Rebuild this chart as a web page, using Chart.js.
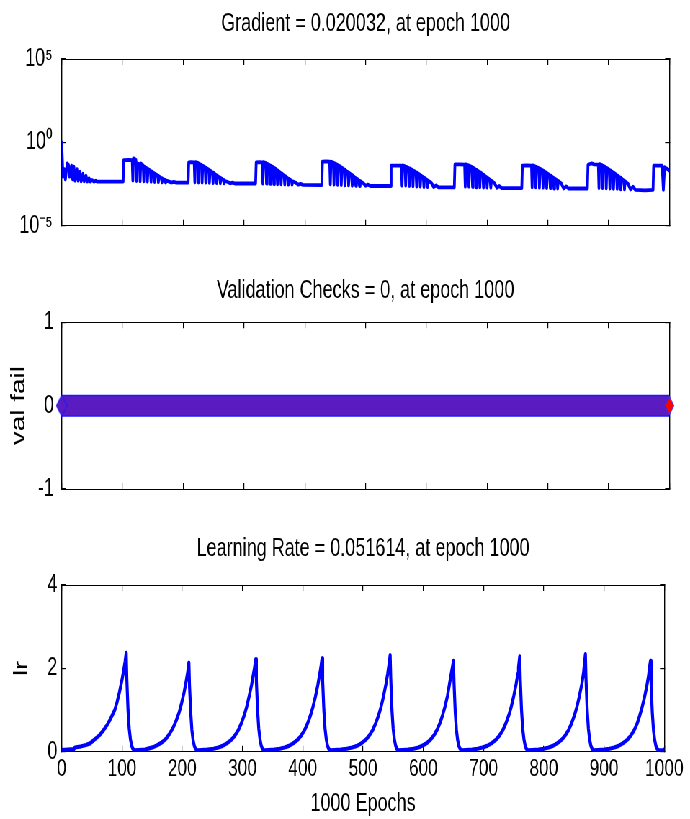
<!DOCTYPE html>
<html>
<head>
<meta charset="utf-8">
<script src="https://cdn.jsdelivr.net/npm/chart.js@4.4.1/dist/chart.umd.min.js"></script>
<style>
  html, body { margin: 0; padding: 0; background: #fff; overflow: hidden; }
  /* the figure is drawn wide and squeezed horizontally, like the narrow MATLAB export */
  #squeeze { width: 958px; height: 819px; transform: scaleX(0.7203); transform-origin: 0 0; }
  .panel { position: relative; width: 958px; }
  #p1, #p2 { height: 262px; }
  #p3 { height: 295px; }
</style>
</head>
<body>
<div id="squeeze">
  <div class="panel" id="p1"><canvas id="gradChart"></canvas></div>
  <div class="panel" id="p2"><canvas id="valChart"></canvas></div>
  <div class="panel" id="p3"><canvas id="lrChart"></canvas></div>
</div>
<script>
// ---- data ----
const epochTicks = [0, 100, 200, 300, 400, 500, 600, 700, 800, 900, 1000];

const gradTicks = [1e-5, 1, 1e5];
const gradTickLabels = ['10\u207B\u2075', '10\u2070', '10\u2075'];

// [epoch, gradient]
const gradientSeries = [
  [0,1.0],[2,8.7e-3],[4,2.5e-2],[6,6.0e-3],[9,5.5e-2],[11,4.5e-2],[13,8.7e-3],[16,4.0e-2],[18,6.0e-3],
  [20,3.5e-2],[22,5.0e-3],[25,2.5e-2],[27,5.0e-3],[30,1.7e-2],[32,4.6e-3],[35,1.3e-2],[37,4.6e-3],
  [40,1.0e-2],[42,4.5e-3],[45,7.0e-3],[47,4.4e-3],[50,5.5e-3],[53,4.4e-3],[56,5.0e-3],[58,4.4e-3],[101,4.4e-3],
  // cycle 1
  [102,8.7e-2],[110,9.0e-2],[116,8.7e-2],
  [117,5.0e-3],[118,1.1e-1],[122,9.0e-2],
  [123,4.8e-3],[124,5.5e-2],[128,5.0e-2],
  [129,4.6e-3],[130,5.5e-2],[134,4.2e-2],
  [135,4.5e-3],[136,3.5e-2],[140,2.8e-2],
  [141,4.4e-3],[142,2.5e-2],[146,2.0e-2],
  [147,4.3e-3],[148,1.8e-2],[152,1.4e-2],
  [153,4.2e-3],[154,1.3e-2],[158,1.0e-2],
  [159,4.1e-3],[160,9.0e-3],[164,7.0e-3],
  [165,4.0e-3],[166,6.5e-3],[170,5.5e-3],
  [171,3.9e-3],[172,5.0e-3],[177,4.4e-3],[180,3.9e-3],[184,4.2e-3],[189,3.8e-3],[208,3.8e-3],
  // cycle 2
  [209,6.3e-2],[213,6.5e-2],[218,6.3e-2],
  [219,4.0e-3],[220,6.5e-2],[224,5.8e-2],
  [225,3.9e-3],[226,5.2e-2],[230,4.4e-2],
  [231,3.8e-3],[232,4.0e-2],[236,3.2e-2],
  [237,3.8e-3],[238,2.9e-2],[242,2.3e-2],
  [243,3.7e-3],[244,2.1e-2],[248,1.6e-2],
  [249,3.6e-3],[250,1.5e-2],[254,1.1e-2],
  [255,3.6e-3],[256,1.0e-2],[260,7.5e-3],
  [261,3.5e-3],[262,7.0e-3],[266,5.5e-3],
  [267,3.5e-3],[268,5.0e-3],[273,4.2e-3],[277,3.5e-3],[281,3.8e-3],[285,3.4e-3],[319,3.4e-3],
  // cycle 3
  [320,6.3e-2],[325,6.5e-2],[330,6.3e-2],
  [331,3.4e-3],[332,6.6e-2],[336,5.8e-2],
  [337,3.3e-3],[338,5.2e-2],[342,4.4e-2],
  [343,3.2e-3],[344,4.0e-2],[348,3.2e-2],
  [349,3.1e-3],[350,2.9e-2],[354,2.2e-2],
  [355,3.0e-3],[356,2.0e-2],[360,1.5e-2],
  [361,3.0e-3],[362,1.4e-2],[366,1.0e-2],
  [367,2.9e-3],[368,9.5e-3],[372,7.0e-3],
  [373,2.9e-3],[374,6.5e-3],[378,5.0e-3],
  [379,2.9e-3],[380,4.6e-3],[385,3.8e-3],[389,2.9e-3],[393,3.2e-3],[397,2.8e-3],[428,2.7e-3],
  // cycle 4
  [429,6.9e-2],[435,7.2e-2],[441,6.9e-2],
  [442,3.0e-3],[443,7.0e-2],[447,6.2e-2],
  [448,2.9e-3],[449,5.5e-2],[453,4.6e-2],
  [454,2.8e-3],[455,4.2e-2],[459,3.4e-2],
  [460,2.7e-3],[461,3.0e-2],[465,2.3e-2],
  [466,2.6e-3],[467,2.1e-2],[471,1.6e-2],
  [472,2.6e-3],[473,1.5e-2],[477,1.1e-2],
  [478,2.5e-3],[479,1.0e-2],[483,7.5e-3],
  [484,2.5e-3],[485,7.0e-3],[489,5.2e-3],
  [490,2.4e-3],[491,4.8e-3],[496,3.6e-3],[500,2.5e-3],[504,2.9e-3],[508,2.4e-3],[541,2.4e-3],
  // cycle 5
  [542,4.0e-2],[550,4.0e-2],[559,4.0e-2],
  [560,2.5e-3],[561,4.2e-2],[565,3.7e-2],
  [566,2.5e-3],[567,3.4e-2],[571,2.9e-2],
  [572,2.4e-3],[573,2.7e-2],[577,2.2e-2],
  [578,2.3e-3],[579,2.0e-2],[583,1.6e-2],
  [584,2.2e-3],[585,1.5e-2],[589,1.15e-2],
  [590,2.2e-3],[591,1.05e-2],[595,8.0e-3],
  [596,2.1e-3],[597,7.5e-3],[601,5.6e-3],
  [602,2.1e-3],[603,5.0e-3],[608,3.8e-3],[612,2.1e-3],[616,2.6e-3],[620,2.0e-3],[646,2.0e-3],
  // cycle 6
  [647,4.8e-2],[655,4.8e-2],[663,4.6e-2],
  [664,2.2e-3],[665,4.8e-2],[669,4.2e-2],
  [670,2.2e-3],[671,3.9e-2],[675,3.3e-2],
  [676,2.1e-3],[677,3.0e-2],[681,2.4e-2],
  [682,2.0e-3],[683,2.2e-2],[687,1.7e-2],
  [688,2.0e-3],[689,1.6e-2],[693,1.2e-2],
  [694,1.9e-3],[695,1.1e-2],[699,8.0e-3],
  [700,1.9e-3],[701,7.5e-3],[705,5.5e-3],
  [706,1.9e-3],[707,5.0e-3],[712,3.6e-3],[716,1.9e-3],[720,2.4e-3],[724,1.8e-3],[757,1.8e-3],
  // cycle 7
  [758,4.0e-2],[765,4.2e-2],[773,4.0e-2],
  [774,2.0e-3],[775,4.2e-2],[779,3.7e-2],
  [780,2.0e-3],[781,3.4e-2],[785,2.8e-2],
  [786,1.9e-3],[787,2.6e-2],[791,2.1e-2],
  [792,1.9e-3],[793,1.9e-2],[797,1.5e-2],
  [798,1.8e-3],[799,1.4e-2],[803,1.05e-2],
  [804,1.8e-3],[805,1.0e-2],[809,7.5e-3],
  [810,1.7e-3],[811,7.0e-3],[815,5.2e-3],
  [816,1.7e-3],[817,4.8e-3],[822,3.4e-3],[826,1.7e-3],[830,2.3e-3],[834,1.7e-3],[865,1.7e-3],
  // cycle 8
  [866,4.5e-2],[869,5.0e-2],[872,5.5e-2],[876,4.8e-2],[883,4.6e-2],
  [884,1.8e-3],[885,5.0e-2],[889,4.3e-2],
  [890,1.8e-3],[891,3.9e-2],[895,3.2e-2],
  [896,1.7e-3],[897,2.9e-2],[901,2.3e-2],
  [902,1.7e-3],[903,2.1e-2],[907,1.6e-2],
  [908,1.6e-3],[909,1.5e-2],[913,1.1e-2],
  [914,1.6e-3],[915,1.0e-2],[919,7.5e-3],
  [920,1.5e-3],[921,7.0e-3],[925,5.0e-3],
  [926,1.5e-3],[927,4.6e-3],[932,3.2e-3],[936,1.5e-3],[940,2.2e-3],[944,1.4e-3],[960,1.3e-3],[973,1.4e-3],
  // last jump
  [974,4.0e-2],[980,4.0e-2],[988,4.0e-2],[990,1.4e-3],[992,3.2e-2],[996,2.6e-2],[1000,0.020032]
];

// validation failures: 0 at every epoch, last epoch marked
const valEpochs = [0, 1000];
const valValues = [0, 0];
const valLastEpoch = [1000];
const valLastValue = [0];
const valTicks = [-1, 0, 1];

// [epoch, learning rate]
const lrSeries = [
  [0,0.04],[10,0.05],[20,0.06],[22,0.1],[30,0.12],[40,0.16],[47,0.2],[55,0.3],[63,0.4],[70,0.53],
  [77,0.68],[83,0.85],[88,1.0],[92,1.2],[96,1.44],[99,1.65],[102,1.88],[105,2.15],[107,2.37],
  [108,1.75],[110,1.0],[112,0.55],[114,0.3],[116,0.15],[118,0.07],[121,0.03],[128,0.04],[138,0.05],[145,0.08],
  [152,0.11],[159,0.16],[166,0.22],[173,0.31],[179,0.43],[185,0.58],[190,0.75],[195,0.95],[199,1.17],
  [203,1.42],[206,1.65],[209,1.9],[211,2.14],
  [212,1.6],[214,0.95],[216,0.52],[218,0.28],[220,0.14],[222,0.07],[225,0.03],[232,0.04],[242,0.05],[252,0.07],
  [260,0.1],[267,0.14],[274,0.2],[281,0.28],[287,0.38],[293,0.52],[298,0.68],[303,0.88],[307,1.08],
  [311,1.33],[315,1.6],[318,1.85],[320,2.02],[322,2.22],
  [323,1.7],[325,1.0],[327,0.55],[329,0.3],[331,0.15],[333,0.07],[336,0.03],[343,0.04],[353,0.05],[362,0.07],
  [370,0.1],[377,0.14],[384,0.2],[391,0.28],[397,0.38],[403,0.52],[408,0.68],[413,0.88],[417,1.08],
  [421,1.32],[425,1.6],[428,1.85],[430,2.02],[432,2.24],
  [433,1.7],[435,1.0],[437,0.55],[439,0.3],[441,0.15],[443,0.07],[446,0.03],[453,0.04],[463,0.05],[473,0.07],
  [482,0.1],[490,0.14],[497,0.2],[504,0.28],[510,0.38],[516,0.52],[521,0.68],[526,0.88],[530,1.08],
  [534,1.33],[538,1.62],[541,1.88],[543,2.08],[545,2.32],
  [546,1.75],[548,1.0],[550,0.55],[552,0.3],[554,0.15],[556,0.07],[559,0.03],[566,0.04],[575,0.05],[584,0.07],
  [592,0.1],[599,0.15],[606,0.21],[612,0.29],[618,0.4],[623,0.53],[628,0.7],[632,0.88],[636,1.08],
  [640,1.33],[643,1.58],[646,1.84],[648,2.0],[650,2.18],
  [651,1.65],[653,0.95],[655,0.52],[657,0.28],[659,0.14],[661,0.07],[664,0.03],[671,0.04],[681,0.05],[690,0.07],
  [698,0.1],[706,0.14],[713,0.2],[720,0.28],[726,0.38],[732,0.52],[737,0.68],[742,0.88],[746,1.08],
  [750,1.33],[754,1.62],[757,1.88],[758,2.02],[760,2.29],
  [761,1.72],[763,1.0],[765,0.55],[767,0.3],[769,0.15],[771,0.07],[774,0.03],[781,0.04],[791,0.05],[800,0.07],
  [808,0.1],[815,0.14],[822,0.2],[829,0.28],[835,0.38],[841,0.52],[846,0.68],[851,0.88],[855,1.08],
  [859,1.33],[863,1.62],[866,1.9],[867,2.05],[869,2.34],
  [870,1.75],[872,1.0],[874,0.55],[876,0.3],[878,0.15],[880,0.07],[883,0.03],[890,0.04],[900,0.05],[909,0.07],
  [917,0.1],[924,0.14],[931,0.2],[938,0.28],[944,0.38],[950,0.52],[955,0.68],[959,0.86],[963,1.06],
  [967,1.3],[971,1.58],[974,1.84],[975,1.98],[977,2.18],
  [978,1.65],[980,0.95],[982,0.52],[984,0.28],[986,0.14],[988,0.07],[991,0.03],[995,0.03],[998,0.04],[1000,0.051614]
];
const lrTicks = [0, 2, 4];

const panelTitles = [
  'Gradient = 0.020032, at epoch 1000',
  'Validation Checks = 0, at epoch 1000',
  'Learning Rate = 0.051614, at epoch 1000'
];

// ---- helpers ----
const FONT = "'Liberation Sans', Arial, Helvetica, sans-serif";
const BLUE = '#0000ff';

function toXY(pairs) { return pairs.map(p => ({ x: p[0], y: p[1] })); }

function inwardGrid() {
  return { drawOnChartArea: false, tickLength: -6, color: '#000', lineWidth: 1.2 };
}

function xScales(showLabels) {
  const setTicks = s => { s.ticks = epochTicks.map(v => ({ value: v })); };
  return {
    x: {
      type: 'linear', position: 'bottom', min: 0, max: 1000,
      afterBuildTicks: setTicks,
      grid: inwardGrid(),
      border: { color: '#000', width: 1 },
      ticks: { display: showLabels, color: '#000', padding: 9, maxRotation: 0, autoSkip: false,
               callback: v => String(v), font: { family: FONT, size: 24 } },
      title: { display: showLabels, text: '1000 Epochs', color: '#000',
               font: { family: FONT, size: 25 }, padding: { top: 0, bottom: 0 } },
      afterFit: s => { s.height = showLabels ? 67.3 : 0; }
    },
    xTop: {
      type: 'linear', axis: 'x', position: 'top', min: 0, max: 1000,
      afterBuildTicks: setTicks,
      grid: inwardGrid(),
      border: { color: '#000', width: 1 },
      ticks: { display: false },
      afterFit: s => { s.height = 0; }
    }
  };
}

function yScales(type, min, max, tickValues, labelFn, labelPad, title) {
  const setTicks = s => { s.ticks = tickValues.map(v => ({ value: v })); };
  return {
    y: {
      type: type, position: 'left', min: min, max: max,
      afterBuildTicks: setTicks,
      grid: inwardGrid(),
      border: { color: '#000', width: 1.4 },
      ticks: { color: '#000', padding: labelPad, autoSkip: false, callback: labelFn,
               font: { family: FONT, size: 25 } },
      title: title,
      afterFit: s => { s.width = 85.7; }
    },
    yRight: {
      type: type, axis: 'y', position: 'right', min: min, max: max,
      afterBuildTicks: setTicks,
      grid: inwardGrid(),
      border: { color: '#000', width: 1.4 },
      ticks: { display: false },
      afterFit: s => { s.width = 0; }
    }
  };
}

function baseOptions(title, titlePad, bottomPad, scales) {
  return {
    responsive: true,
    maintainAspectRatio: false,
    animation: false,
    events: [],
    layout: { padding: { left: 0, right: 28.6, top: 0, bottom: bottomPad } },
    plugins: {
      legend: { display: false },
      tooltip: { enabled: false },
      title: { display: true, fullSize: false, text: title, color: '#000',
               font: { family: FONT, size: 25, weight: 'normal' }, padding: titlePad }
    },
    scales: scales
  };
}

function lineSet(pairs, width) {
  return {
    data: toXY(pairs), borderColor: BLUE, borderWidth: width, borderJoinStyle: 'round',
    borderCapStyle: 'round', pointRadius: 0, tension: 0, xAxisID: 'x', yAxisID: 'y'
  };
}

function diamond(w, h, fill, stroke) {
  const c = document.createElement('canvas');
  c.width = w; c.height = h;
  const g = c.getContext('2d');
  g.beginPath();
  g.moveTo(w / 2, 0.5); g.lineTo(w - 0.5, h / 2); g.lineTo(w / 2, h - 0.5); g.lineTo(0.5, h / 2);
  g.closePath();
  g.fillStyle = fill; g.fill();
  g.strokeStyle = stroke; g.lineWidth = 1.2; g.stroke();
  return c;
}

const yTitle = (text, pad) => ({ display: true, text: text, color: '#000',
  font: { family: FONT, size: 28 }, padding: { top: pad, bottom: 0 } });

// ---- panel 1: gradient ----
new Chart(document.getElementById('gradChart'), {
  type: 'line',
  data: { datasets: [lineSet(gradientSeries, 3.8)] },
  options: baseOptions(panelTitles[0], { top: 9, bottom: 20 }, 36.3, Object.assign(
    xScales(false),
    yScales('logarithmic', 1e-5, 1e5, gradTicks,
            v => gradTickLabels[gradTicks.indexOf(v)], 18.7, { display: false })
  ))
});

// ---- panel 2: validation checks ----
const valDatasets = [
  { data: valLastEpoch.map((e, i) => ({ x: e, y: valLastValue[i] })), showLine: false,
    pointStyle: diamond(13, 19, '#ff0000', '#3030ff'), pointRadius: 6, clip: false },
  { data: [{ x: valEpochs[0], y: valValues[0] }], showLine: false,
    pointStyle: diamond(16, 22, '#5a1cc0', '#1a1aff'), pointRadius: 6, clip: false },
  { data: valEpochs.map((e, i) => ({ x: e, y: valValues[i] })), borderColor: '#5a1cc0',
    borderWidth: 19, pointRadius: 0, borderCapStyle: 'butt' },
  { data: valEpochs.map((e, i) => ({ x: e, y: valValues[i] })), borderColor: '#1a1aff',
    borderWidth: 22, pointRadius: 0, borderCapStyle: 'butt' }
];
new Chart(document.getElementById('valChart'), {
  type: 'line',
  data: { datasets: valDatasets },
  options: baseOptions(panelTitles[1], { top: 14, bottom: 16.3 }, 35, Object.assign(
    xScales(false),
    yScales('linear', -1, 1, valTicks, v => String(v), 16.7, yTitle('val fail', 9.6))
  ))
});

// ---- panel 3: learning rate ----
new Chart(document.getElementById('lrChart'), {
  type: 'line',
  data: { datasets: [lineSet(lrSeries, 4.2)] },
  options: baseOptions(panelTitles[2], { top: 10, bottom: 21 }, 0, Object.assign(
    xScales(true),
    yScales('linear', 0, 4, lrTicks, v => String(v), 12, yTitle('lr', 13.3))
  ))
});
</script>
</body>
</html>
